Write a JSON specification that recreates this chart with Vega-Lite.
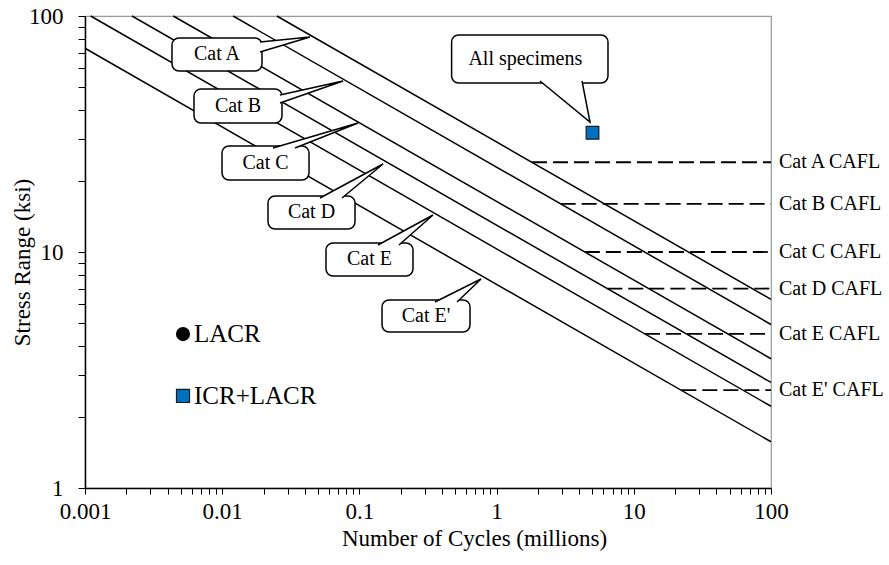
{
  "$schema": "https://vega.github.io/schema/vega-lite/v6.json",
  "autosize": {"type": "none"},
  "width": 686,
  "height": 472,
  "padding": {"left": 85, "top": 16, "right": 118, "bottom": 77},
  "background": "white",
  "config": {
    "view": {"stroke": "#9a9a9a", "strokeWidth": 1.2},
    "font": "Liberation Serif",
    "text": {"font": "Liberation Serif", "color": "black"}
  },
  "datasets": {
    "lines": [
      {"cat": "A", "i": 0, "n": 0.025, "S": 100}, {"cat": "A", "i": 1, "n": 100, "S": 6.3},
      {"cat": "B", "i": 0, "n": 0.012, "S": 100}, {"cat": "B", "i": 1, "n": 100, "S": 4.93},
      {"cat": "C", "i": 0, "n": 0.0044, "S": 100}, {"cat": "C", "i": 1, "n": 100, "S": 3.53},
      {"cat": "D", "i": 0, "n": 0.0022, "S": 100}, {"cat": "D", "i": 1, "n": 100, "S": 2.8},
      {"cat": "E", "i": 0, "n": 0.0011, "S": 100}, {"cat": "E", "i": 1, "n": 100, "S": 2.22},
      {"cat": "E'", "i": 0, "n": 0.001, "S": 73}, {"cat": "E'", "i": 1, "n": 100, "S": 1.57}
    ],
    "cafl": [
      {"label": "Cat A CAFL", "n": 1.81, "n2": 100, "S": 24},
      {"label": "Cat B CAFL", "n": 2.93, "n2": 100, "S": 16},
      {"label": "Cat C CAFL", "n": 4.4, "n2": 100, "S": 10},
      {"label": "Cat D CAFL", "n": 6.41, "n2": 100, "S": 7},
      {"label": "Cat E CAFL", "n": 12.07, "n2": 100, "S": 4.5},
      {"label": "Cat E' CAFL", "n": 22.2, "n2": 100, "S": 2.6}
    ],
    "boxes": [
      {"label": "Cat A", "n": 0.004305, "n2": 0.0195, "S": 80.68, "S2": 58.47, "tn": 0.009165, "tS": 68.69},
      {"label": "Cat B", "n": 0.00623, "n2": 0.02728, "S": 49.06, "S2": 35.2, "tn": 0.01303, "tS": 41.56},
      {"label": "Cat C", "n": 0.009966, "n2": 0.04293, "S": 28.13, "S2": 20.19, "tn": 0.02068, "tS": 23.84},
      {"label": "Cat D", "n": 0.02157, "n2": 0.09289, "S": 17.28, "S2": 12.52, "tn": 0.04477, "tS": 14.71},
      {"label": "Cat E", "n": 0.05708, "n2": 0.2458, "S": 10.92, "S2": 7.913, "tn": 0.1185, "tS": 9.295},
      {"label": "Cat E'", "n": 0.1462, "n2": 0.64, "S": 6.261, "S2": 4.582, "tn": 0.3058, "tS": 5.356},
      {"label": "All specimens", "n": 0.47, "n2": 6.485, "S": 83.09, "S2": 52.02, "tn": 1.62, "tS": 65.73}
    ],
    "tails": [
      {"id": "A", "i": 0, "n": 0.01886, "S": 77.61}, {"id": "A", "i": 1, "n": 0.04365, "S": 81.47}, {"id": "A", "i": 2, "n": 0.01886, "S": 70.39},
      {"id": "B", "i": 0, "n": 0.02638, "S": 46.26}, {"id": "B", "i": 1, "n": 0.07595, "S": 53.04}, {"id": "B", "i": 2, "n": 0.02638, "S": 42.79},
      {"id": "C", "i": 0, "n": 0.02346, "S": 27.59}, {"id": "C", "i": 1, "n": 0.09768, "S": 35.2}, {"id": "C", "i": 2, "n": 0.03394, "S": 27.59},
      {"id": "D", "i": 0, "n": 0.05162, "S": 16.94}, {"id": "D", "i": 1, "n": 0.1486, "S": 23.6}, {"id": "D", "i": 2, "n": 0.07468, "S": 16.94},
      {"id": "E", "i": 0, "n": 0.1366, "S": 10.71}, {"id": "E", "i": 1, "n": 0.3439, "S": 14.35}, {"id": "E", "i": 2, "n": 0.1943, "S": 10.71},
      {"id": "E'", "i": 0, "n": 0.3556, "S": 6.14}, {"id": "E'", "i": 1, "n": 0.7699, "S": 7.685}, {"id": "E'", "i": 2, "n": 0.5146, "S": 6.14},
      {"id": "All", "i": 0, "n": 2.072, "S": 53.04}, {"id": "All", "i": 1, "n": 4.795, "S": 35.55}, {"id": "All", "i": 2, "n": 4.193, "S": 53.04}
    ],
    "specimens": [
      {"series": "ICR+LACR", "n": 5, "S": 32}
    ],
    "legend": [
      {"label": "LACR", "n": 0.00518, "S": 4.49, "tn": 0.00623},
      {"label": "ICR+LACR", "n": 0.00518, "S": 2.454, "tn": 0.00623}
    ]
  },
  "layer": [
    {
      "data": {"name": "lines"},
      "mark": {"type": "line", "color": "black", "strokeWidth": 1.5},
      "encoding": {
        "x": {
          "field": "n", "type": "quantitative",
          "scale": {"type": "log", "domain": [0.001, 100], "nice": false},
          "axis": {
            "title": "Number of Cycles (millions)",
            "values": [0.001, 0.002, 0.003, 0.004, 0.005, 0.006, 0.007, 0.008, 0.009, 0.01, 0.02, 0.03, 0.04, 0.05, 0.06, 0.07, 0.08, 0.09, 0.1, 0.2, 0.3, 0.4, 0.5, 0.6, 0.7, 0.8, 0.9, 1, 2, 3, 4, 5, 6, 7, 8, 9, 10, 20, 30, 40, 50, 60, 70, 80, 90, 100],
            "format": "~g",
            "labelExpr": "indexof(['0.001','0.01','0.1','1','10','100'], datum.label) >= 0 ? datum.label : ''",
            "labelOverlap": false, "labelFlush": false, "labelBound": false,
            "grid": false, "domainColor": "black", "domainWidth": 1.5,
            "tickColor": "black", "tickSize": 6, "tickWidth": 1,
            "labelFont": "Liberation Serif", "labelFontSize": 23, "labelColor": "black", "labelPadding": 6,
            "titleFont": "Liberation Serif", "titleFontSize": 23, "titleFontWeight": "normal", "titleColor": "black",
            "titleX": 389, "titleY": 57, "titleBaseline": "alphabetic", "titleAlign": "center"
          }
        },
        "y": {
          "field": "S", "type": "quantitative",
          "scale": {"type": "log", "domain": [1, 100], "nice": false},
          "axis": {
            "title": "Stress Range (ksi)",
            "values": [1, 2, 3, 4, 5, 6, 7, 8, 9, 10, 20, 30, 40, 50, 60, 70, 80, 90, 100],
            "format": "~g",
            "labelExpr": "indexof(['1','10','100'], datum.label) >= 0 ? datum.label : ''",
            "labelOverlap": false, "labelFlush": false, "labelBound": false,
            "grid": false, "domainColor": "black", "domainWidth": 1.5,
            "tickColor": "black", "tickSize": 7, "tickWidth": 1,
            "labelFont": "Liberation Serif", "labelFontSize": 23, "labelColor": "black", "labelPadding": 15,
            "titleFont": "Liberation Serif", "titleFontSize": 23, "titleFontWeight": "normal", "titleColor": "black",
            "titleX": -56, "titleY": 246, "titleAngle": -90, "titleBaseline": "alphabetic", "titleAlign": "center"
          }
        },
        "detail": {"field": "cat"},
        "order": {"field": "i"}
      }
    },
    {
      "data": {"name": "cafl"},
      "mark": {"type": "rule", "color": "black", "strokeWidth": 1.8, "strokeDash": [15, 6]},
      "encoding": {
        "x": {"field": "n", "type": "quantitative"},
        "x2": {"field": "n2"},
        "y": {"field": "S", "type": "quantitative"}
      }
    },
    {
      "data": {"name": "cafl"},
      "mark": {"type": "text", "align": "left", "baseline": "middle", "dx": 8, "fontSize": 20, "font": "Liberation Serif", "color": "black"},
      "encoding": {
        "x": {"field": "n2", "type": "quantitative"},
        "y": {"field": "S", "type": "quantitative"},
        "text": {"field": "label"}
      }
    },
    {
      "data": {"name": "boxes"},
      "mark": {"type": "rect", "fill": "white", "stroke": "black", "strokeWidth": 1.5, "cornerRadius": 7},
      "encoding": {
        "x": {"field": "n", "type": "quantitative"},
        "x2": {"field": "n2"},
        "y": {"field": "S", "type": "quantitative"},
        "y2": {"field": "S2"}
      }
    },
    {
      "data": {"name": "tails"},
      "mark": {"type": "line", "fill": "white", "stroke": "black", "strokeWidth": 1.5, "strokeJoin": "miter"},
      "encoding": {
        "x": {"field": "n", "type": "quantitative"},
        "y": {"field": "S", "type": "quantitative"},
        "detail": {"field": "id"},
        "order": {"field": "i"}
      }
    },
    {
      "data": {"name": "boxes"},
      "mark": {"type": "text", "align": "center", "baseline": "middle", "fontSize": 20, "font": "Liberation Serif", "color": "black"},
      "encoding": {
        "x": {"field": "tn", "type": "quantitative"},
        "y": {"field": "tS", "type": "quantitative"},
        "text": {"field": "label"}
      }
    },
    {
      "data": {"name": "specimens"},
      "mark": {"type": "point", "shape": "square", "filled": true, "fill": "#0070C0", "stroke": "#1a1a1a", "strokeWidth": 1.2, "size": 160, "opacity": 1},
      "encoding": {
        "x": {"field": "n", "type": "quantitative"},
        "y": {"field": "S", "type": "quantitative"}
      }
    },
    {
      "data": {"name": "legend"},
      "transform": [{"filter": "datum.label == 'LACR'"}],
      "mark": {"type": "point", "shape": "circle", "filled": true, "fill": "black", "size": 200, "opacity": 1},
      "encoding": {
        "x": {"field": "n", "type": "quantitative"},
        "y": {"field": "S", "type": "quantitative"}
      }
    },
    {
      "data": {"name": "legend"},
      "transform": [{"filter": "datum.label == 'ICR+LACR'"}],
      "mark": {"type": "point", "shape": "square", "filled": true, "fill": "#0070C0", "stroke": "#1a1a1a", "strokeWidth": 1.2, "size": 170, "opacity": 1},
      "encoding": {
        "x": {"field": "n", "type": "quantitative"},
        "y": {"field": "S", "type": "quantitative"}
      }
    },
    {
      "data": {"name": "legend"},
      "mark": {"type": "text", "align": "left", "baseline": "middle", "fontSize": 25, "font": "Liberation Serif", "color": "black"},
      "encoding": {
        "x": {"field": "tn", "type": "quantitative"},
        "y": {"field": "S", "type": "quantitative"},
        "text": {"field": "label"}
      }
    }
  ]
}
